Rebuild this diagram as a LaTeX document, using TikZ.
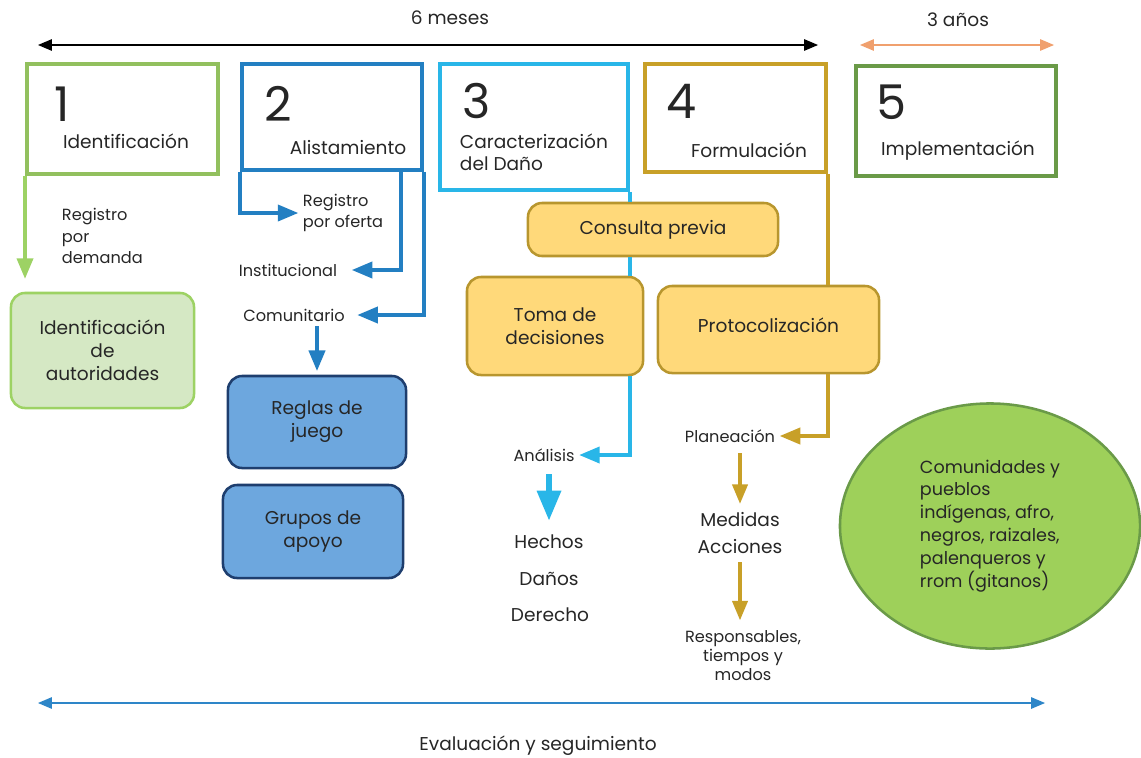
\documentclass[tikz,border=0pt]{standalone}
\usepackage{fontspec}
\setmainfont{Poppins}
\usetikzlibrary{arrows}
\usetikzlibrary{positioning}
\usetikzlibrary{shapes.geometric}
\definecolor{etapauno}{RGB}{146,192,94}
\definecolor{etapados}{RGB}{35,127,194}
\definecolor{etapatres}{RGB}{41,182,232}
\definecolor{etapacuatro}{RGB}{200,160,40}
\definecolor{etapacinco}{RGB}{106,154,72}
\definecolor{lineauno}{RGB}{157,210,100}
\definecolor{naranja}{RGB}{240,160,110}
\definecolor{evaluacion}{RGB}{46,134,200}
\definecolor{autoridades}{RGB}{213,232,196}
\definecolor{reglas}{RGB}{109,167,222}
\definecolor{reglasborde}{RGB}{30,62,110}
\definecolor{consulta}{RGB}{255,217,122}
\definecolor{consultaborde}{RGB}{184,150,46}
\definecolor{pueblos}{RGB}{158,208,90}
\tikzstyle{etapa} = [draw,line width=2.8pt,inner sep=0pt]
\tikzstyle{connector} = [line width=2.4pt,-triangle 45]
\tikzstyle{timeline} = [line width=1.3pt,triangle 45-triangle 45]

\begin{document}
\begin{tikzpicture}[x=0.025cm,y=-0.025cm,text=black!85,
      number node/.style={font=\fontsize{34}{34}\selectfont},
      label node/.style={font=\fontsize{13.2}{19}\selectfont,align=center},
      small node/.style={font=\fontsize{11.5}{15.5}\selectfont,align=center},
      round box/.style={draw,rounded corners=10pt,line width=1.8pt,align=center,
        font=\fontsize{13.2}{16.5}\selectfont,inner sep=0pt}]
  \useasboundingbox (0,0) rectangle (1141,757);

  % tiempos
  \node[label node] (MES) at (450,18) {6 meses};
  \coordinate (T1) at (38,45);
  \coordinate (T2) at (818,45);
  \node[label node] (ANO) at (958,20) {3 años};
  \coordinate (O1) at (860,45);
  \coordinate (O2) at (1054,45);
  \draw[timeline] (T1) -- (T2);
  \draw[timeline,naranja] (O1) -- (O2);

  % etapas
  \node[etapa,etapauno,minimum width=4.775cm,minimum height=2.75cm] (B1) at (122.5,119) {};
  \node[etapa,etapados,minimum width=4.5cm,minimum height=2.65cm] (B2) at (332,117) {};
  \node[etapa,etapatres,minimum width=4.7cm,minimum height=3.15cm] (B3) at (534,127) {};
  \node[etapa,etapacuatro,minimum width=4.525cm,minimum height=2.7cm] (B4) at (735.5,118) {};
  \node[etapa,etapacinco,minimum width=5cm,minimum height=2.75cm] (B5) at (956,121) {};
  \foreach \i/\x/\y in {1/62/104,2/278/104,3/477/101,4/682/101,5/891/102}{\node[number node] (N\i) at (\x,\y) {\i};}
  \node[label node] (L1) at (126,141) {Identificación};
  \node[label node] (L2) at (348,148) {Alistamiento};
  \node[label node,align=left,anchor=west,font=\fontsize{13.2}{15.5}\selectfont] (L3) at (455,152) {Caracterización\\del Daño};
  \node[label node] (L4) at (749,150) {Formulación};
  \node[label node] (L5) at (958,151) {Implementación};

  % etapa 1
  \node[small node,align=left,anchor=west] (RD) at (57,236) {Registro\\por\\demanda};
  \node[round box,fill=autoridades,draw=lineauno,minimum width=4.575cm,minimum height=2.875cm,
    font=\fontsize{13.2}{16.5}\selectfont] (AUT) at (102.5,350.5) {Identificación\\de\\autoridades};
  \draw[connector,lineauno] (B1.south west) -- ([yshift=0.33cm]B1.south west |- AUT.north);

  % etapa 2
  \node[small node,align=left,anchor=west] (RO) at (298,213) {Registro\\por oferta};
  \node[small node] (INS) at (288,270) {Institucional};
  \node[small node] (COM) at (294,315) {Comunitario};
  \node[round box,fill=reglas,draw=reglasborde,minimum width=4.45cm,minimum height=2.3cm] (RJ) at (317,422) {Reglas de\\juego};
  \node[round box,fill=reglas,draw=reglasborde,minimum width=4.5cm,minimum height=2.325cm] (GA) at (313,531.5) {Grupos de\\apoyo};
  \draw[connector,etapados] (B2.south west) |- (RO.west);
  \draw[connector,etapados,shorten >=0.25cm] ([xshift=-0.575cm]B2.south east) |- (INS.east);
  \draw[connector,etapados,shorten >=0.2cm] (B2.south east) |- (COM.east);
  \draw[connector,etapados] (RJ.north |- COM.south) -- ([yshift=0.1cm]RJ.north);

  % etapa 3 y 4
  \node[round box,fill=consulta,draw=consultaborde,minimum width=6.25cm,minimum height=1.325cm] (CP) at (653,229.5) {Consulta previa};
  \node[round box,fill=consulta,draw=consultaborde,minimum width=4.4cm,minimum height=2.45cm] (TD) at (555,326) {Toma de\\decisiones};
  \node[round box,fill=consulta,draw=consultaborde,minimum width=5.525cm,minimum height=2.175cm] (PR) at (768.5,329.5) {\raisebox{0.2cm}{Protocolización}};
  \node[small node] (AN) at (544,455) {Análisis};
  \node[small node] (PL) at (730,436) {Planeación};
  \draw[line width=2.4pt,etapatres] (B3.south east) -- (B3.south east |- CP.north);
  \draw[line width=2.4pt,etapatres] (B3.south east |- CP.south) -- (B3.south east |- TD.north);
  \draw[connector,etapatres] (B3.south east |- TD.south) |- (AN.east);
  \draw[line width=2.4pt,etapacuatro] (B4.south east) -- (B4.south east |- PR.north);
  \draw[connector,etapacuatro] (B4.south east |- PR.south) |- (PL.east);

  \foreach \t/\n/\x/\y in {Hechos/HE/549/542,Daños/DA/549/579,Derecho/DE/550/615}{\node[label node] (\n) at (\x,\y) {\t};}
  \draw[line width=4pt,etapatres,-triangle 45,shorten <=0.2cm,shorten >=0.25cm] (AN.south -| HE.north) -- (HE.north);
  \node[label node] (MA) at (740,533) {Medidas\\Acciones};
  \node[small node,font=\fontsize{11.5}{13.5}\selectfont] (RES) at (743,656) {Responsables,\\tiempos y\\modos};
  \draw[connector,etapacuatro,line width=2.2pt,shorten <=0.15cm,shorten >=0.1cm] (PL.south -| MA.north) -- (MA.north);
  \draw[connector,etapacuatro,line width=2.2pt,shorten <=0.1cm,shorten >=0.15cm] (MA.south) -- (MA.south |- RES.north);

  % pueblos
  \node[ellipse,draw=etapacinco,fill=pueblos,line width=1.8pt,minimum width=7.5cm,minimum height=6.125cm,
    align=left,font=\fontsize{12.5}{16.3}\selectfont] (PU) at (990,526)
    {Comunidades y\\pueblos\\indígenas, afro,\\negros, raizales,\\palenqueros y\\rrom (gitanos)};

  % evaluacion
  \coordinate (E1) at (38,703);
  \coordinate (E2) at (1045,703);
  \draw[timeline,evaluacion] (E1) -- (E2);
  \node[label node] (EV) at (538,746) {Evaluación y seguimiento};
\end{tikzpicture}
\end{document}
